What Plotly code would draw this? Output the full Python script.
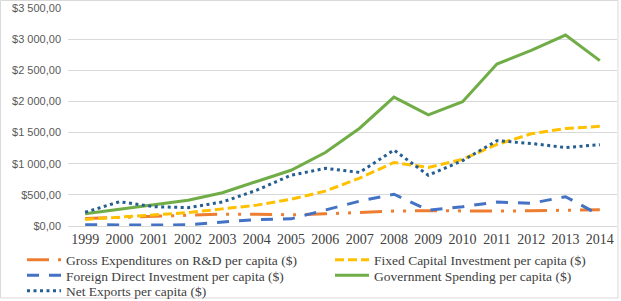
import plotly.graph_objects as go

years = [str(y) for y in range(1999, 2015)]
rd = [120, 140, 150, 175, 190, 190, 180, 195, 215, 240, 245, 240, 240, 245, 255, 260]
fixed_cap = [105, 140, 170, 215, 275, 335, 430, 560, 770, 1020, 940, 1070, 1310, 1480, 1565, 1600]
fdi = [20, 15, 15, 20, 65, 105, 115, 260, 400, 510, 255, 310, 385, 365, 470, 175]
gov = [195, 265, 335, 415, 535, 710, 895, 1180, 1570, 2070, 1785, 1995, 2600, 2820, 3065, 2655]
net_exp = [220, 390, 310, 295, 385, 575, 815, 925, 860, 1220, 815, 1050, 1370, 1325, 1260, 1305]

y_tickvals = [0, 500, 1000, 1500, 2000, 2500, 3000, 3500]
y_ticktext = ["$0,00", "$500,00", "$1 000,00", "$1 500,00", "$2 000,00",
              "$2 500,00", "$3 000,00", "$3 500,00"]

names = {
    "rd": "Gross Expenditures on R&D per capita ($)",
    "fixed": "Fixed Capital Investment per capita ($)",
    "fdi": "Foreign Direct Investment per capita ($)",
    "gov": "Government Spending per capita ($)",
    "net": "Net Exports per capita ($)",
}

W, H = 621, 301
L, R, T, B = 68, 4, 8, 75
pw, ph = W - L - R, H - T - B


def px_x(p):
    return (p - L) / pw


def px_y(p):
    return (H - B - p) / ph


def cont_y(p):
    return 1 - p / H


fig = go.Figure()
fig.add_trace(go.Scatter(x=years, y=rd, name=names["rd"], mode="lines",
                         line=dict(color="#ED7D31", width=3, dash="22px,9px,3px,9px,3px,9px"),
                         legend="legend"))
fig.add_trace(go.Scatter(x=years, y=fixed_cap, name=names["fixed"], mode="lines",
                         line=dict(color="#FFC000", width=3, dash="9px,4px"),
                         legend="legend2"))
fig.add_trace(go.Scatter(x=years, y=fdi, name=names["fdi"], mode="lines",
                         line=dict(color="#4472C4", width=3, dash="12px,10px"),
                         legend="legend3"))
fig.add_trace(go.Scatter(x=years, y=gov, name=names["gov"], mode="lines",
                         line=dict(color="#70AD47", width=3),
                         legend="legend4"))
fig.add_trace(go.Scatter(x=years, y=net_exp, name=names["net"], mode="lines",
                         line=dict(color="#255E91", width=3, dash="3px,3.5px"),
                         legend="legend5"))

legend_font = dict(family="Liberation Serif", size=13.5, color="#404040")


def leg(px_left, py_center):
    return dict(x=px_x(px_left), xanchor="left", xref="paper",
                y=cont_y(py_center), yanchor="middle", yref="container",
                orientation="v", font=legend_font, bgcolor="rgba(0,0,0,0)",
                itemwidth=34, borderwidth=0, visible=True)


fig.update_layout(
    width=W, height=H, autosize=False, showlegend=True,
    margin=dict(l=L, r=R, t=T, b=B),
    paper_bgcolor="white", plot_bgcolor="white",
    xaxis=dict(type="category", range=[-0.5, 15.5], showgrid=False,
               showline=True, linecolor="#D9D9D9", linewidth=1, ticks="",
               tickfont=dict(family="Liberation Serif", size=14, color="#404040"),
               zeroline=False, fixedrange=True, automargin=False),
    yaxis=dict(range=[0, 3500], tickvals=y_tickvals, ticktext=y_ticktext,
               showgrid=True, gridcolor="#D9D9D9", gridwidth=1, zeroline=False,
               showline=False, ticks="",
               tickfont=dict(family="Liberation Sans", size=11, color="#595959"),
               ticklabelstandoff=6, fixedrange=True, automargin=False),
    legend=leg(22, 260),
    legend2=leg(330, 260),
    legend3=leg(22, 275.5),
    legend4=leg(330, 275.5),
    legend5=leg(22, 291),
    shapes=[dict(type="rect", xref="paper", yref="paper",
                 x0=px_x(0.5), x1=px_x(618), y0=px_y(298), y1=px_y(0.5),
                 line=dict(color="#D9D9D9", width=1), layer="above")],
)

fig.write_html("out.html", config={"displayModeBar": False},
               post_script="document.body.style.margin='0';document.body.style.padding='0';")
